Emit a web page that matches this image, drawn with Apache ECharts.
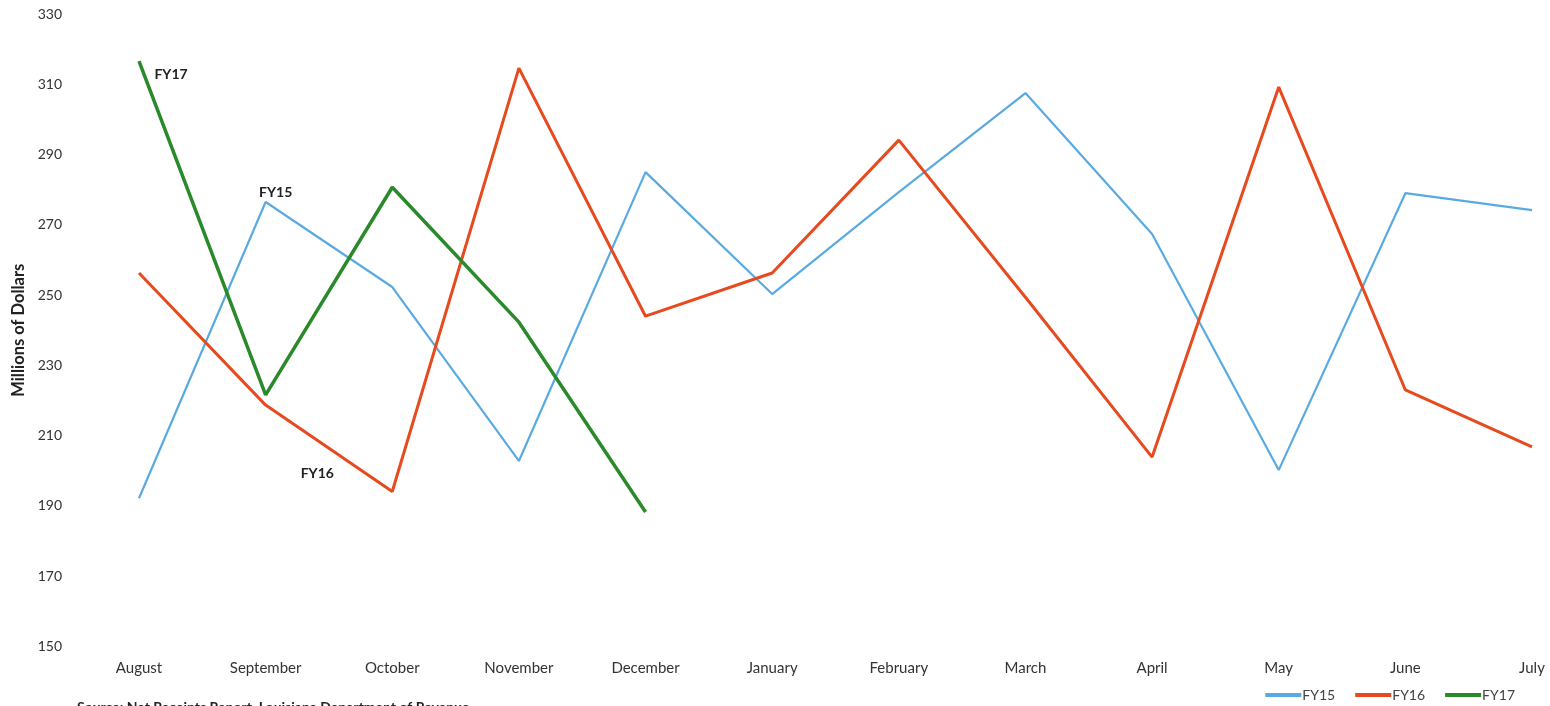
<!DOCTYPE html>
<html>
<head>
<meta charset="utf-8">
<script src="https://cdn.jsdelivr.net/npm/echarts@6/dist/echarts.min.js"></script>
<style>
  html, body { margin: 0; padding: 0; background: #ffffff; }
  #chart { width: 1550px; height: 706px; }
</style>
</head>
<body>
<div id="chart"></div>
<script>
// Monthly net receipts, millions of dollars, fiscal year August–July
const months = ['August', 'September', 'October', 'November', 'December', 'January',
                'February', 'March', 'April', 'May', 'June', 'July'];
const fy15 = [192.2, 276.5, 252.3, 202.8, 285.0, 250.3, 279.3, 307.5, 267.4, 200.2, 279.0, 274.2];
const fy16 = [256.3, 218.7, 194.1, 314.6, 244.0, 256.3, 294.1, 249.4, 203.9, 309.2, 223.0, 206.8];
const fy17 = [316.6, 221.6, 280.7, 242.3, 188.3];
const yTicks = { min: 150, max: 330, step: 20 };
const sourceNote = 'Source: Net Receipts Report, Louisiana Department of Revenue';

const FONT = 'Lato, "Open Sans", sans-serif';
const chart = echarts.init(document.getElementById('chart'));

function tag(text, month, value, offset) {
  return {
    symbol: 'circle', symbolSize: 0,
    data: [{ coord: [month, value] }],
    label: {
      show: true, formatter: text, offset: offset,
      fontFamily: FONT, fontWeight: 'bold', fontSize: 14, color: '#222'
    }
  };
}

chart.setOption({
  animation: false,
  backgroundColor: '#ffffff',
  grid: { left: 139, right: 18, top: 14, bottom: 59.5 },
  legend: {
    right: 30, top: 683,
    itemWidth: 36, itemHeight: 4, itemGap: 20,
    icon: 'rect',
    textStyle: { fontFamily: FONT, fontSize: 14, color: '#444', padding: [0, 0, 0, -4] },
    data: ['FY15', 'FY16', 'FY17']
  },
  xAxis: {
    type: 'category',
    data: months,
    boundaryGap: false,
    axisLine: { show: false },
    axisTick: { show: false },
    axisLabel: { margin: 14, fontFamily: FONT, fontSize: 15, color: '#333' }
  },
  yAxis: {
    type: 'value',
    min: yTicks.min, max: yTicks.max, interval: yTicks.step,
    name: 'Millions of Dollars',
    nameLocation: 'middle',
    nameGap: 105,
    nameTextStyle: { fontFamily: FONT, fontWeight: 'bold', fontSize: 16.5, color: '#222' },
    axisLine: { show: false },
    axisTick: { show: false },
    splitLine: { show: false },
    axisLabel: { margin: 77, fontFamily: FONT, fontSize: 14, color: '#333' }
  },
  series: [
    {
      name: 'FY15', type: 'line', data: fy15, symbol: 'none',
      lineStyle: { color: '#5aaae2', width: 2.2 }, itemStyle: { color: '#5aaae2' },
      markPoint: tag('FY15', 'September', fy15[1], [10, -10])
    },
    {
      name: 'FY16', type: 'line', data: fy16, symbol: 'none',
      lineStyle: { color: '#e64a1e', width: 3 }, itemStyle: { color: '#e64a1e' },
      markPoint: tag('FY16', 'October', fy16[2], [-75, -18])
    },
    {
      name: 'FY17', type: 'line', data: fy17, symbol: 'none',
      lineStyle: { color: '#2a8a2a', width: 3.5 }, itemStyle: { color: '#2a8a2a' },
      markPoint: tag('FY17', 'August', fy17[0], [32, 13])
    }
  ],
  graphic: [{
    type: 'text', left: 77, top: 700,
    style: { text: sourceNote, font: 'bold 14px ' + FONT, fill: '#222' }
  }]
});
</script>
</body>
</html>
